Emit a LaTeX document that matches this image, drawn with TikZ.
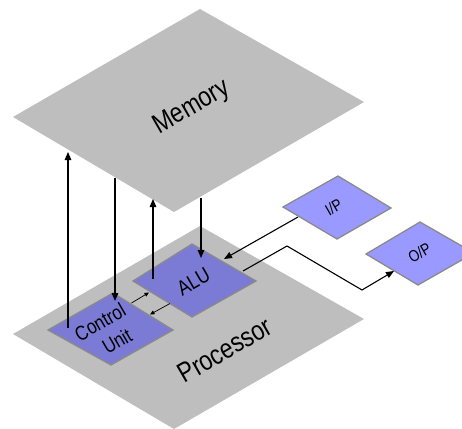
\documentclass[tikz,border=0pt]{standalone}
\usepackage{fontspec}
\setmainfont{Liberation Sans}
\usetikzlibrary{arrows.meta}
\definecolor{memgray}{HTML}{BEBEBE}
\definecolor{cpufill}{HTML}{7B7BD6}
\definecolor{iofill}{HTML}{9999FF}
\definecolor{edgegray}{HTML}{8A8A8A}
\tikzset{
  plane/.style={fill=memgray, draw=none},
  unitbox/.style={fill=cpufill, draw=edgegray, line width=1.3pt, line join=miter},
  iobox/.style={fill=iofill, draw=edgegray, line width=1.3pt, line join=miter},
  lbl/.style={rotate=30, yscale=1.2, inner sep=0pt, text=black},
  conn/.style={line width=1.1pt, -{Triangle[length=8pt,width=6.5pt]}},
  smallconn/.style={line width=0.7pt, -{Triangle[length=4.5pt,width=4pt]}},
}
\begin{document}
\begin{tikzpicture}[x=1pt,y=-1pt]
\useasboundingbox (0,0) rectangle (462,428);
\clip (0,0) rectangle (462,428);
% Memory plane
\coordinate (m1) at (200,9);
\coordinate (m2) at (364,102);
\coordinate (m3) at (174,212);
\coordinate (m4) at (13,117);
\fill[plane] (m1) -- (m2) -- (m3) -- (m4) -- cycle;
% Processor plane
\coordinate (p1) at (200,226);
\coordinate (p2) at (364,319);
\coordinate (p3) at (174,429);
\coordinate (p4) at (13,334);
\fill[plane] (p1) -- (p2) -- (p3) -- (p4) -- cycle;
% Control unit
\coordinate (c1) at (113,293);
\coordinate (c2) at (173,330);
\coordinate (c3) at (111,365);
\coordinate (c4) at (48,330);
\draw[unitbox] (c1) -- (c2) -- (c3) -- (c4) -- cycle;
% ALU
\coordinate (a1) at (192,244);
\coordinate (a2) at (256,281);
\coordinate (a3) at (192,317);
\coordinate (a4) at (133,281);
\draw[unitbox] (a1) -- (a2) -- (a3) -- (a4) -- cycle;
% I/P
\coordinate (i1) at (338,176);
\coordinate (i2) at (391,208);
\coordinate (i3) at (337,239);
\coordinate (i4) at (283,207);
\draw[iobox] (i1) -- (i2) -- (i3) -- (i4) -- cycle;
% O/P
\coordinate (o1) at (420,222);
\coordinate (o2) at (474,253);
\coordinate (o3) at (418,285);
\coordinate (o4) at (366,254);
\draw[iobox] (o1) -- (o2) -- (o3) -- (o4) -- cycle;
% Labels
\node[lbl, font=\fontsize{23}{28}\selectfont] (memory) at (192,108) {Memory};
\node[lbl, font=\fontsize{23}{28}\selectfont] (processor) at (225,350) {Processor};
\node[lbl, font=\fontsize{17}{20}\selectfont] (cu1) at (100,322) {Control};
\node[lbl, font=\fontsize{17}{20}\selectfont] (cu2) at (117,341) {Unit};
\node[lbl, font=\fontsize{17.5}{20}\selectfont] (alu) at (193.5,281.5) {ALU};
\node[lbl, font=\fontsize{13.5}{16}\selectfont] (ip) at (333.5,207) {I/P};
\node[lbl, font=\fontsize{13.5}{16}\selectfont] (op) at (419.5,252.5) {O/P};
% Connector end points
\coordinate (cuUpS) at (68,328);
\coordinate (cuUpE) at (68,152);
\coordinate (cuDnS) at (115,178);
\coordinate (cuDnE) at (115,301);
\coordinate (aluUpS) at (153,279);
\coordinate (aluUpE) at (153,199);
\coordinate (aluDnS) at (201,198);
\coordinate (aluDnE) at (201,258);
\coordinate (ipS) at (298,217);
\coordinate (ipE) at (224,259);
\coordinate (opS) at (243,271);
\coordinate (opK1) at (287,246);
\coordinate (opK2) at (362,290);
\coordinate (opE) at (394,271);
\coordinate (caS) at (131.5,303);
\coordinate (caE) at (149,292.5);
\coordinate (acS) at (170,303.5);
\coordinate (acE) at (150,314.5);
% Connectors
\draw[conn] (cuUpS) -- (cuUpE);
\draw[conn] (cuDnS) -- (cuDnE);
\draw[conn] (aluUpS) -- (aluUpE);
\draw[conn] (aluDnS) -- (aluDnE);
\draw[conn] (ipS) -- (ipE);
\draw[conn, line join=miter] (opS) -- (opK1) -- (opK2) -- (opE);
\draw[smallconn] (caS) -- (caE);
\draw[smallconn] (acS) -- (acE);
\end{tikzpicture}
\end{document}
